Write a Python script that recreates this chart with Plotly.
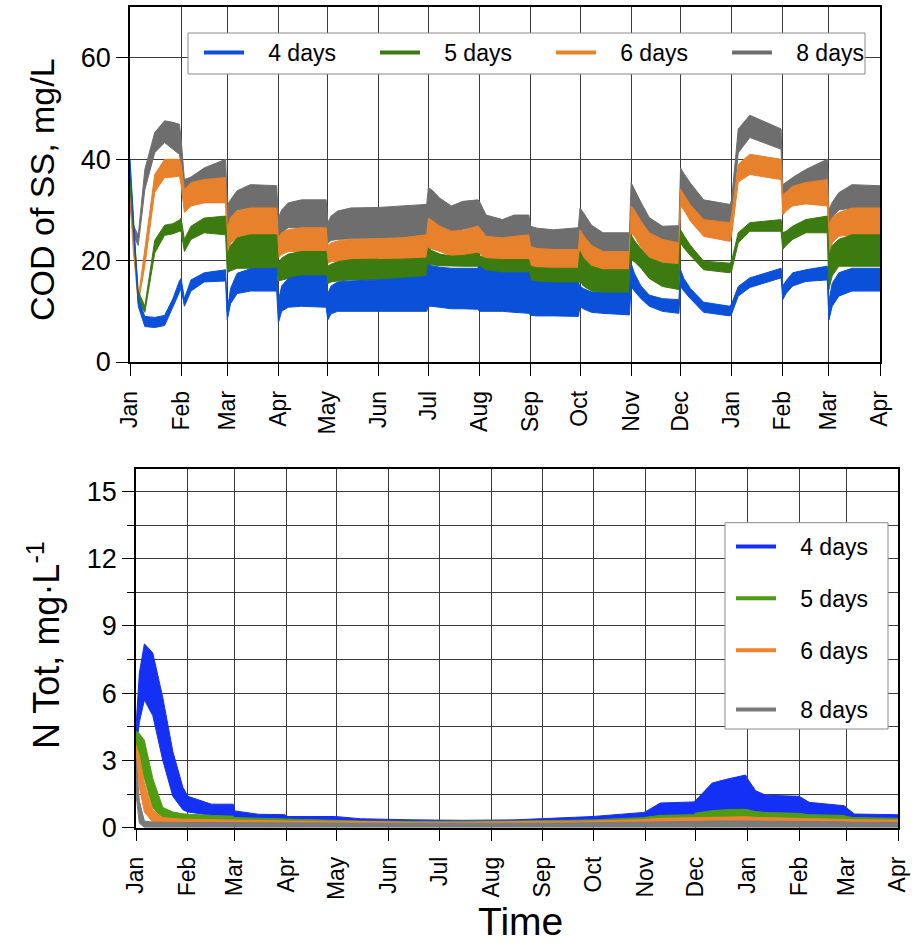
import plotly.graph_objects as go

# ---------------- data: top panel (COD of SS, mg/L) ----------------
top_dates = [
    "2017-01-01", "2017-01-03", "2017-01-06", "2017-01-10", "2017-01-16", "2017-01-22", "2017-01-27", "2017-01-31",
    "2017-02-01", "2017-02-03", "2017-02-07", "2017-02-15", "2017-02-28",
    "2017-03-01", "2017-03-03", "2017-03-07", "2017-03-15", "2017-03-31",
    "2017-04-01", "2017-04-03", "2017-04-07", "2017-04-15", "2017-04-30",
    "2017-05-01", "2017-05-03", "2017-05-07", "2017-05-15", "2017-05-31",
    "2017-06-01", "2017-06-15", "2017-06-30",
    "2017-07-01", "2017-07-03", "2017-07-08", "2017-07-15", "2017-07-22", "2017-07-31",
    "2017-08-01", "2017-08-05", "2017-08-15", "2017-08-22", "2017-08-31",
    "2017-09-01", "2017-09-05", "2017-09-15", "2017-09-30",
    "2017-10-01", "2017-10-03", "2017-10-08", "2017-10-15", "2017-10-31",
    "2017-11-01", "2017-11-03", "2017-11-07", "2017-11-12", "2017-11-20", "2017-11-30",
    "2017-12-01", "2017-12-03", "2017-12-07", "2017-12-15", "2017-12-31",
    "2018-01-01", "2018-01-05", "2018-01-12", "2018-01-31",
    "2018-02-01", "2018-02-03", "2018-02-07", "2018-02-15", "2018-02-28",
    "2018-03-01", "2018-03-03", "2018-03-07", "2018-03-15", "2018-03-31",
    "2018-04-01",
]

cod_4d_hi = [40, 29, 12.5, 9, 8.8, 9.2, 12.5, 16,
             16.5, 12.5, 16.2, 17.6, 18.2,
             10, 14.5, 17.5, 18.4, 18.5,
             12, 15, 16.5, 17, 17,
             13.5, 15, 15.8, 16, 16.2,
             16.2, 16.5, 16.9,
             19.2, 19, 18.7, 18.5, 18.5, 18.5,
             18.9, 18, 17.6, 17.6, 17.6,
             16, 15.8, 15.6, 15.6,
             15, 14.5, 13.8, 13.6, 13.6,
             19.5, 17.5, 15, 13.2, 12.5, 12.3,
             18.2, 16.5, 14.5, 11.8, 11,
             11.5, 14.9, 16.6, 18.5,
             15, 16, 17.6, 18.2, 18.9,
             12, 15.5, 17.6, 18.5, 18.5,
             18.5]
cod_4d_lo = [39, 27, 11, 7, 6.8, 7.2, 11, 14,
             14.5, 11, 14, 15.8, 16,
             8.3, 11.5, 13.5, 14, 14,
             7.7, 10, 10.8, 11, 10.8,
             8.3, 9.5, 10, 10, 10,
             10, 10, 10,
             11, 11, 10.8, 10.5, 10.5, 10.4,
             10, 10, 10, 9.8, 9.6,
             9.2, 9.1, 9.1, 9,
             11, 10.5, 9.8, 9.6, 9.3,
             14.9, 14, 12.5, 11, 10, 9.6,
             14.9, 14, 12.5, 9.8, 9.1,
             9.5, 13, 14.7, 16.6,
             12.3, 13.5, 15, 15.9, 16.2,
             8.3, 11, 13, 14, 14,
             14]

cod_5d_hi = [37, 27, 14, 11, 24, 27, 27.3, 28,
             28.4, 24.2, 26.8, 28.4, 28.8,
             21, 23, 24.5, 25.1, 25.1,
             19.5, 20.5, 21.3, 21.8, 21.8,
             18.9, 19.3, 19.8, 20.2, 20.3,
             20.2, 20.3, 20.5,
             22.5, 22, 21.3, 20.9, 21, 21.5,
             21, 20.4, 20.2, 20.2, 20.2,
             18.9, 18.6, 18.5, 18.5,
             21.8, 20.5, 18.9, 18.2, 18.2,
             25.1, 24, 22.3, 20.5, 19.5, 19.2,
             26.1, 25, 23, 19.9, 19.5,
             20, 25.5, 27.5, 28.1,
             25.5, 25.8, 26.8, 28.1, 28.8,
             21, 23, 24.2, 25.1, 25.1,
             25.1]
cod_5d_lo = [35, 25, 12, 9.8, 21.5, 25, 25.3, 25.8,
             25.8, 21.8, 24.2, 25.5, 25.1,
             17.6, 18, 18.5, 18.5, 18.5,
             16, 16.2, 16.5, 16.9, 16.9,
             15.5, 15.8, 16, 16.2, 16.2,
             15.9, 15.9, 16,
             19.2, 19.2, 19, 18.9, 18.9, 18.9,
             17.6, 17.6, 17.6, 17.6, 17.6,
             15.6, 15.6, 15.6, 15.3,
             16, 15, 14, 13.6, 13.4,
             20.2, 19.8, 18.5, 16.5, 14.9, 14.3,
             23.5, 22.5, 21, 18.2, 17.6,
             18, 23.5, 25.8, 25.8,
             22.2, 23, 24.2, 25.5, 25.5,
             14.3, 17, 18.9, 18.9, 18.9,
             18.9]

cod_6d_hi = [34, 24, 12.5, 22, 37, 40, 40, 40,
             39, 34, 35.4, 36, 36.4,
             26.5, 28.5, 29.8, 30.4, 30.4,
             24.5, 25.5, 26.1, 26.5, 26.5,
             23, 23.5, 23.9, 24.2, 24.3,
             24.3, 24.5, 25.1,
             28.4, 28, 26.8, 25.8, 26, 26.8,
             26.5, 24.8, 24.5, 24.8, 25.1,
             22.8, 22.4, 22.2, 22.2,
             26.1, 25, 23, 21.8, 21.8,
             30.8, 30, 27.8, 25.5, 24.2, 23.5,
             34.1, 33, 31, 28.1, 27.5,
             29, 39, 41, 40,
             33, 33.5, 34.7, 35.4, 36,
             27, 28.5, 29.5, 30.4, 30.4,
             30.4]
cod_6d_lo = [32, 22, 11.5, 19, 33.5, 36.4, 36.5, 36.7,
             35, 29.5, 30.8, 31.4, 31.4,
             21, 23.5, 24.6, 25.1, 25.1,
             20.5, 21.2, 21.8, 21.8, 21.8,
             19.5, 19.8, 19.9, 20.2, 20.2,
             20.2, 20.3, 20.5,
             22.5, 22.3, 21.8, 20.9, 21, 21.2,
             21.5, 20.2, 20.2, 20.2, 20.2,
             18.9, 18.7, 18.5, 18.5,
             21.8, 20.5, 19, 18.2, 18.2,
             25.5, 24.8, 22.6, 20.5, 19.5, 19.2,
             30.8, 30, 27.8, 24.8, 23.8,
             25, 35.5, 37, 36,
             29, 29.8, 30.8, 31.2, 30.8,
             21, 23.5, 24.8, 25.1, 25.1,
             25.1]

cod_8d_hi = [33, 27, 25, 38, 45.3, 47.6, 47.3, 46.9,
             44, 36, 36.5, 38.3, 40,
             31, 32, 33.8, 35, 34.8,
             28.5, 30, 31.4, 32, 32,
             27.5, 28.8, 29.8, 30.4, 30.4,
             30.5, 30.8, 31.1,
             34.4, 34, 32.3, 30.8, 31.7, 32,
             31.7, 29, 28.1, 29, 29,
             26.8, 26.4, 26.1, 26.5,
             30.4, 29.5, 27, 25.5, 25.5,
             35.4, 34, 31.5, 28.5, 26.8, 26.9,
             38.3, 37.2, 35.3, 32, 31.1,
             32, 46, 48.7, 46,
             35, 35.5, 36.4, 38, 40,
             30, 31.5, 33.4, 35, 34.8,
             34.8]
cod_8d_lo = [31, 25, 23, 34, 41.3, 43.3, 42, 41,
             39, 32.7, 33.5, 35.4, 35.7,
             26, 28.5, 30, 30.4, 30.4,
             24.5, 25.5, 26.5, 26.5, 26.5,
             23.5, 24, 24.2, 24.3, 24.3,
             24.4, 24.5, 25.1,
             28.4, 28, 26.5, 25.8, 26.2, 26.8,
             26.4, 24.8, 24.5, 24.5, 24.5,
             22.5, 22.3, 22.2, 22.2,
             26.1, 25, 22.4, 21.8, 21.8,
             30.8, 29.5, 26.8, 24.5, 23.5, 23.5,
             34.1, 33, 31, 27.7, 27.2,
             28, 41.3, 44.3, 42,
             32, 32.5, 33, 34.1, 36,
             27, 28.5, 30, 30.4, 30.4,
             30.4]

# ---------------- data: bottom panel (N Tot, mg/L) ----------------
bot_dates = [
    "2017-01-01", "2017-01-03", "2017-01-06", "2017-01-11", "2017-01-17", "2017-01-23", "2017-01-29",
    "2017-02-01", "2017-02-15", "2017-02-28",
    "2017-03-01", "2017-03-15", "2017-03-31",
    "2017-04-01", "2017-04-30",
    "2017-05-15", "2017-06-15", "2017-07-15", "2017-08-15", "2017-09-15",
    "2017-10-01", "2017-10-31",
    "2017-11-01", "2017-11-10", "2017-11-30",
    "2017-12-01", "2017-12-11", "2017-12-19", "2017-12-31",
    "2018-01-01", "2018-01-06", "2018-01-12", "2018-01-31",
    "2018-02-01", "2018-02-07", "2018-02-28",
    "2018-03-01", "2018-03-06", "2018-03-31",
    "2018-04-01",
]
ntot_4d_hi = [4.5, 6.9, 8.2, 7.8, 5.8, 3.4, 1.8, 1.4, 1.05, 1.05, 0.75, 0.6, 0.58, 0.5, 0.5,
              0.4, 0.35, 0.33, 0.35, 0.45, 0.5, 0.68, 0.7, 1.1, 1.15, 1.2, 1.99, 2.15, 2.35,
              2.2, 1.65, 1.45, 1.43, 1.4, 1.13, 0.98, 0.9, 0.61, 0.58, 0.58]
ntot_4d_lo = [3.5, 4.7, 5.7, 5.0, 3.0, 1.4, 0.8, 0.7, 0.55, 0.55, 0.35, 0.3, 0.28, 0.25, 0.22,
              0.2, 0.18, 0.18, 0.18, 0.2, 0.22, 0.3, 0.3, 0.4, 0.4, 0.45, 0.55, 0.6, 0.6,
              0.6, 0.55, 0.5, 0.5, 0.5, 0.45, 0.4, 0.35, 0.3, 0.3, 0.3]
ntot_5d_hi = [4.3, 4.2, 3.9, 2.2, 0.9, 0.7, 0.62, 0.6, 0.55, 0.5, 0.45, 0.42, 0.4, 0.38, 0.35,
              0.3, 0.28, 0.28, 0.3, 0.33, 0.35, 0.45, 0.46, 0.55, 0.58, 0.65, 0.76, 0.8, 0.82,
              0.8, 0.72, 0.68, 0.66, 0.64, 0.58, 0.55, 0.5, 0.45, 0.42, 0.42]
ntot_5d_lo = [3.4, 2.8, 2.2, 0.9, 0.35, 0.3, 0.28, 0.28, 0.25, 0.25, 0.22, 0.2, 0.2, 0.18, 0.16,
              0.15, 0.14, 0.14, 0.15, 0.16, 0.16, 0.2, 0.2, 0.25, 0.25, 0.28, 0.32, 0.33, 0.33,
              0.33, 0.3, 0.3, 0.3, 0.3, 0.28, 0.26, 0.25, 0.22, 0.2, 0.2]
ntot_6d_hi = [3.7, 3.2, 2.0, 0.8, 0.45, 0.4, 0.38, 0.38, 0.36, 0.35, 0.33, 0.32, 0.31, 0.3, 0.29,
              0.27, 0.25, 0.25, 0.26, 0.28, 0.3, 0.36, 0.37, 0.42, 0.44, 0.45, 0.48, 0.49, 0.5,
              0.49, 0.46, 0.45, 0.44, 0.43, 0.4, 0.38, 0.37, 0.35, 0.34, 0.34]
ntot_6d_lo = [2.9, 1.8, 0.7, 0.25, 0.15, 0.12, 0.12, 0.12, 0.1, 0.1, 0.1, 0.1, 0.09, 0.09, 0.08,
              0.08, 0.08, 0.08, 0.08, 0.08, 0.09, 0.1, 0.1, 0.11, 0.12, 0.12, 0.13, 0.13, 0.13,
              0.13, 0.12, 0.12, 0.12, 0.12, 0.11, 0.11, 0.1, 0.1, 0.1, 0.1]
ntot_8d_hi = [3.1, 1.2, 0.3, 0.25, 0.24, 0.24, 0.24, 0.24, 0.23, 0.23, 0.22, 0.22, 0.22, 0.21, 0.21,
              0.2, 0.19, 0.19, 0.2, 0.21, 0.22, 0.25, 0.25, 0.27, 0.28, 0.28, 0.3, 0.31, 0.31,
              0.31, 0.3, 0.29, 0.29, 0.29, 0.27, 0.26, 0.25, 0.24, 0.24, 0.24]
ntot_8d_lo = [1.5, 0.2, 0.02, 0.02, 0.02, 0.02, 0.02, 0.02, 0.02, 0.02, 0.02, 0.02, 0.02, 0.02, 0.02,
              0.02, 0.02, 0.02, 0.02, 0.02, 0.02, 0.02, 0.02, 0.02, 0.02, 0.02, 0.02, 0.02, 0.02,
              0.02, 0.02, 0.02, 0.02, 0.02, 0.02, 0.02, 0.02, 0.02, 0.02, 0.02]

series_names = ["4 days", "5 days", "6 days", "8 days"]
top_colors = ["#0B50D8", "#3C7B0F", "#E8812C", "#6E6E6E"]
bot_colors = ["#1530F5", "#4E9C12", "#EE8430", "#7A7A7A"]

FONT = "Liberation Sans, Arial, Helvetica, sans-serif"
GRID = "#3c3c3c"
PAD = "\u00a0\u00a0\u00a0"   # gap between legend line and label

fig = go.Figure()


def add_band(x, lo, hi, color, xa, ya):
    fig.add_trace(go.Scatter(x=x, y=lo, mode="lines", line=dict(color=color, width=1),
                             showlegend=False, hoverinfo="skip", xaxis=xa, yaxis=ya))
    fig.add_trace(go.Scatter(x=x, y=hi, mode="lines", line=dict(color=color, width=1),
                             fill="tonexty", fillcolor=color, showlegend=False,
                             hoverinfo="skip", xaxis=xa, yaxis=ya))


top_series = [(cod_4d_lo, cod_4d_hi), (cod_5d_lo, cod_5d_hi), (cod_6d_lo, cod_6d_hi), (cod_8d_lo, cod_8d_hi)]
bot_series = [(ntot_4d_lo, ntot_4d_hi), (ntot_5d_lo, ntot_5d_hi), (ntot_6d_lo, ntot_6d_hi), (ntot_8d_lo, ntot_8d_hi)]

# top: 8 days at the back, 4 days in front
for i in [3, 2, 1, 0]:
    add_band(top_dates, top_series[i][0], top_series[i][1], top_colors[i], "x", "y")
# bottom: 4 days at the back, 8 days in front
for i in [0, 1, 2, 3]:
    add_band(bot_dates, bot_series[i][0], bot_series[i][1], bot_colors[i], "x2", "y2")

# legend entries
for i, nm in enumerate(series_names):
    fig.add_trace(go.Scatter(x=[None], y=[None], mode="lines", name=PAD + nm,
                             line=dict(color=top_colors[i], width=4),
                             legend="legend", xaxis="x", yaxis="y"))
for i, nm in enumerate(series_names):
    fig.add_trace(go.Scatter(x=[None], y=[None], mode="lines", name=PAD + nm,
                             line=dict(color=bot_colors[i], width=4),
                             legend="legend3" if i == 3 else "legend2",
                             legendgroup="g%d" % i, xaxis="x2", yaxis="y2"))

xcommon = dict(type="date", range=["2017-01-01", "2018-04-01"], dtick="M1", tick0="2017-01-01",
               tickformat="%b", tickangle=-90, ticks="outside", ticklen=12, tickcolor="black",
               ticklabelstandoff=6,
               showgrid=True, gridcolor=GRID, gridwidth=1, showline=True, mirror=True,
               linecolor="black", linewidth=1.5, zeroline=False, automargin=False,
               tickfont=dict(family=FONT, size=23, color="black"))
ycommon = dict(ticks="outside", ticklen=12, tickcolor="black", showgrid=True, gridcolor=GRID,
               gridwidth=1, showline=True, mirror=True, linecolor="black", linewidth=1.5,
               zeroline=False, automargin=False, tickfont=dict(family=FONT, size=27, color="black"))

legend_common = dict(bgcolor="rgba(0,0,0,0)", borderwidth=0,
                     font=dict(family=FONT, size=23, color="black"), itemwidth=40,
                     xanchor="left", yanchor="top")

fig.update_layout(
    width=920, height=944,
    margin=dict(l=0, r=0, t=0, b=0, autoexpand=False),
    paper_bgcolor="white", plot_bgcolor="white",
    font=dict(family=FONT, color="black"),
    xaxis=dict(domain=[130 / 920, 880 / 920], anchor="y", **xcommon),
    yaxis=dict(domain=[1 - 362 / 944, 1 - 7.3 / 944], anchor="x", range=[0, 70], dtick=20, **ycommon),
    xaxis2=dict(domain=[136 / 920, 898 / 920], anchor="y2", **xcommon),
    yaxis2=dict(domain=[1 - 827.7 / 944, 1 - 469 / 944], anchor="x2", range=[0, 16], dtick=3,
                minor=dict(dtick=1.5, tick0=0, ticks="outside", ticklen=7, tickcolor="black",
                           showgrid=True, gridcolor=GRID, gridwidth=1),
                **ycommon),
    legend=dict(orientation="h", x=199 / 920, y=1 - 31 / 944, traceorder="normal",
                entrywidth=121, entrywidthmode="pixels", **legend_common),
    legend2=dict(orientation="v", x=731 / 920, y=1 - 525 / 944, traceorder="grouped",
                 tracegroupgap=19, **legend_common),
    legend3=dict(orientation="v", x=731 / 920, y=1 - 688 / 944, traceorder="normal", **legend_common),
    shapes=[
        dict(type="rect", xref="paper", yref="paper", x0=188 / 920, x1=865 / 920,
             y0=1 - 74 / 944, y1=1 - 33 / 944, line=dict(color="#8a8a8a", width=1),
             fillcolor="white", layer="above"),
        dict(type="rect", xref="paper", yref="paper", x0=725 / 920, x1=888 / 920,
             y0=1 - 729 / 944, y1=1 - 522.7 / 944, line=dict(color="#8a8a8a", width=1),
             fillcolor="white", layer="above"),
    ],
    annotations=[
        dict(text="COD of SS, mg/L", x=42 / 920, y=1 - 190 / 944, xref="paper", yref="paper",
             xanchor="center", yanchor="middle", textangle=-90, showarrow=False,
             font=dict(family=FONT, size=34, color="black")),
        dict(text="N Tot, mg·L<sup>-1</sup>", x=44 / 920, y=1 - 645 / 944, xref="paper", yref="paper",
             xanchor="center", yanchor="middle", textangle=-90, showarrow=False,
             font=dict(family=FONT, size=36, color="black")),
        dict(text="Time", x=520 / 920, y=1 - 921 / 944, xref="paper", yref="paper",
             xanchor="center", yanchor="middle", showarrow=False,
             font=dict(family=FONT, size=39, color="black")),
    ],
)

fig.write_html("out.html", config={"displayModeBar": False},
               post_script="document.body.style.margin='0';document.body.style.padding='0';")
